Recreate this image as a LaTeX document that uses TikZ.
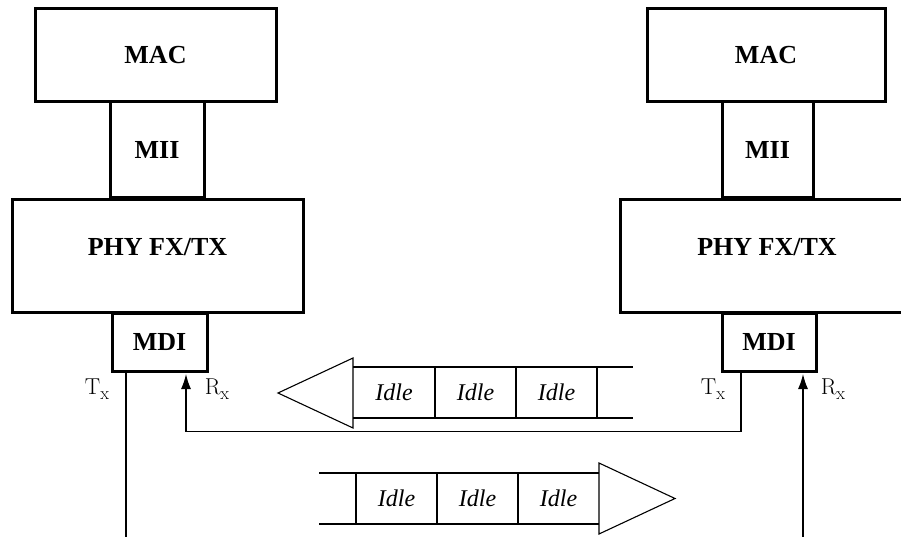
\documentclass[tikz,border=0pt]{standalone}
\usepackage{fontspec}
\newfontfamily\tnr{Liberation Serif}
\usetikzlibrary{arrows.meta}
\newcommand{\sigtxt}[1]{#1\raisebox{-4.5pt}{\fontsize{18}{18}\selectfont x}}
\begin{document}
\begin{tikzpicture}[x=1pt,y=-1pt,
  box/.style={draw, line width=3pt, inner sep=0pt, fill=white},
  lbl/.style={font=\tnr\bfseries\fontsize{26}{30}\selectfont, inner sep=0pt},
  idle/.style={font=\tnr\itshape\fontsize{24}{28}\selectfont, inner sep=0pt},
  sig/.style={font=\fontsize{23}{26}\selectfont, inner sep=0pt},
  strip/.style={line width=1.8pt},
  tri/.style={line width=1.1pt, line join=miter},
  conn/.style={line width=1.3pt},
  tip/.style={-{Latex[length=15pt,width=10pt]}, shorten >=1.5pt}]
\useasboundingbox (0,0) rectangle (901,537);
\fill[white] (0,0) rectangle (901,537);

% left station
\node[box, minimum width=241pt, minimum height=93pt] (lmac) at (155.5,55.5) {};
\node[box, minimum width=94pt, minimum height=96pt] (lmii) at (157,150) {};
\node[box, minimum width=291pt, minimum height=112pt] (lphy) at (157.5,256) {};
\node[box, minimum width=95pt, minimum height=58pt] (lmdi) at (159.5,342) {};
\node[lbl] (lmact) at (lmac.center) {MAC};
\node[lbl] (lmiit) at (lmii.center) {MII};
\node[lbl] (lphyt) at ([yshift=9pt]lphy.center) {PHY FX/TX};
\node[lbl] (lmdit) at (lmdi.center) {MDI};

% right station
\node[box, minimum width=238pt, minimum height=93pt] (rmac) at (766,55.5) {};
\node[box, minimum width=91pt, minimum height=96pt] (rmii) at (767.5,150) {};
\node[box, minimum width=294pt, minimum height=112pt] (rphy) at (767,256) {};
\node[box, minimum width=94pt, minimum height=58pt] (rmdi) at (769,342) {};
\node[lbl] (rmact) at (rmac.center) {MAC};
\node[lbl] (rmiit) at (rmii.center) {MII};
\node[lbl] (rphyt) at ([yshift=9pt]rphy.center) {PHY FX/TX};
\node[lbl] (rmdit) at (rmdi.center) {MDI};

% signal labels
\node[sig] (ltx) at (97,389) {\sigtxt{T}};
\node[sig] (lrx) at (217,389) {\sigtxt{R}};
\node[sig] (rtx) at (713,389) {\sigtxt{T}};
\node[sig] (rrx) at (833,389) {\sigtxt{R}};

% connectors
\coordinate (ltxend) at (126,540);
\coordinate (rtxc) at (741,431.5);
\coordinate (lrxc) at (186,431.5);
\coordinate (rrxend) at (803,540);
\draw[conn] (lmdi.south -| ltxend) -- (ltxend);
\draw[conn, tip] (rmdi.south -| rtxc) -- (rtxc) -- (lrxc) -- (lmdi.south -| lrxc);
\draw[conn, tip] (rrxend) -- (rmdi.south -| rrxend);

% upper idle stream (towards left)
\draw[strip] (353,367) -- (633,367) (353,418) -- (633,418);
\draw[strip] (435,367) -- (435,418) (516,367) -- (516,418) (597,367) -- (597,418);
\draw[tri] (353,358) -- (278,393) -- (353,428) -- cycle;
\node[idle] (ui1) at (394,392.5) {Idle};
\node[idle] (ui2) at (475.5,392.5) {Idle};
\node[idle] (ui3) at (556.5,392.5) {Idle};

% lower idle stream (towards right)
\draw[strip] (319,473) -- (599,473) (319,524) -- (599,524);
\draw[strip] (356,473) -- (356,524) (437,473) -- (437,524) (518,473) -- (518,524);
\draw[tri] (599,463) -- (675,498.5) -- (599,534) -- cycle;
\node[idle] (li1) at (396.5,498.5) {Idle};
\node[idle] (li2) at (477.5,498.5) {Idle};
\node[idle] (li3) at (558.5,498.5) {Idle};
\end{tikzpicture}
\end{document}
